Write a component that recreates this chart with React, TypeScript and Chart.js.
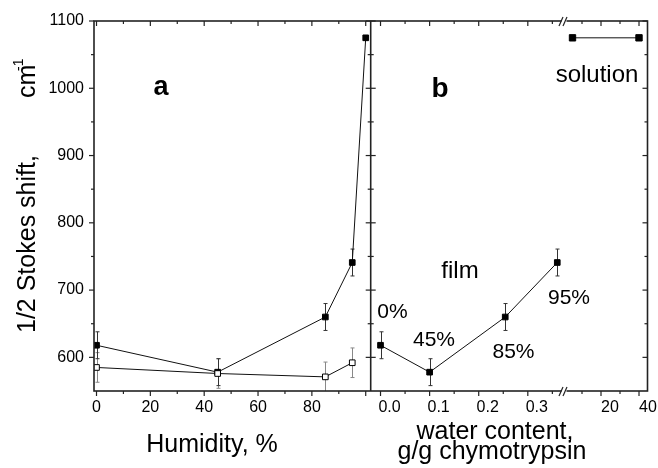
import React, { useEffect, useRef } from 'react';
import { Chart, registerables } from 'chart.js';

Chart.register(...registerables);

// ---- data ----
const humidityFilled = [0, 45, 85, 95, 100];
const shiftFilled = [618, 578, 660, 741, 1075];
const errFilled = [20, 20, 20, 20, 0];

const humidityOpen = [0, 45, 85, 95];
const shiftOpen = [585, 576, 571, 592];
const errOpen = [22, 22, 22, 22];

const waterFilm = [0, 0.1, 0.254, 0.36];
const shiftFilm = [618, 578, 660, 741];
const errFilm = [20, 20, 20, 20];

const waterSolution = [5, 40];
const shiftSolution = [1075, 1075];

const yTicks = [600, 700, 800, 900, 1000, 1100];
const humidityTicks = [0, 20, 40, 60, 80];
const waterTicks = [0, 0.1, 0.2, 0.3];
const solutionTicks = [20, 40];

const FONT = '"Liberation Sans", Arial, Helvetica, sans-serif';

const pts = (xs: number[], ys: number[]) => xs.map((x, i) => ({ x, y: ys[i] }));

const decorPlugin = {
  id: 'decor',
  beforeDatasetsDraw(chart: any) {
    const ctx = chart.ctx;
    const y = chart.scales.y;
    const { left, right, top, bottom } = chart.chartArea;
    ctx.save();
    ctx.beginPath();
    ctx.rect(left, top, right - left, bottom - top);
    ctx.clip();
    chart.data.datasets.forEach((ds: any) => {
      if (!ds.errors) return;
      const xs = chart.scales[ds.xAxisID];
      ctx.strokeStyle = ds.errColor;
      ctx.lineWidth = 1;
      ds.data.forEach((p: any, i: number) => {
        const e = ds.errors[i];
        if (!e) return;
        const px = Math.round(xs.getPixelForValue(p.x)) + 0.5;
        const t = y.getPixelForValue(p.y + e);
        const b = y.getPixelForValue(p.y - e);
        ctx.beginPath();
        ctx.moveTo(px, t);
        ctx.lineTo(px, b);
        ctx.moveTo(px - 2, t);
        ctx.lineTo(px + 2, t);
        ctx.moveTo(px - 2, b);
        ctx.lineTo(px + 2, b);
        ctx.stroke();
      });
    });
    ctx.restore();
  },
  afterDatasetsDraw(chart: any) {
    const ctx = chart.ctx;
    const { left, right, top, bottom } = chart.chartArea;
    const { xa, xb, xc, y } = chart.scales;
    ctx.save();
    ctx.strokeStyle = '#222';
    ctx.lineWidth = 1.6;
    ctx.strokeRect(left, top, right - left, bottom - top);
    const div = xa.right;
    ctx.beginPath();
    ctx.moveTo(div, top);
    ctx.lineTo(div, bottom);
    ctx.stroke();

    ctx.lineWidth = 1.2;
    const seg = (x1: number, y1: number, x2: number, y2: number) => {
      ctx.beginPath();
      ctx.moveTo(x1, y1);
      ctx.lineTo(x2, y2);
      ctx.stroke();
    };
    // y ticks
    for (let v = 600; v <= 1100; v += 50) {
      const py = y.getPixelForValue(v);
      const L = v % 100 === 0 ? 5 : 3;
      seg(left - L, py, left, py);
      seg(right - L, py, right, py);
      seg(div - L, py, div + L, py);
    }
    // x ticks
    const xTick = (scale: any, v: number, major: boolean) => {
      const px = scale.getPixelForValue(v);
      const L = major ? 5 : 3;
      seg(px, bottom, px, bottom + L);
      seg(px, top, px, top + L);
    };
    for (let i = 0; i <= 10; i++) xTick(xa, i * 10, i % 2 === 0);
    for (let i = 0; i <= 7; i++) xTick(xb, i * 0.05, i % 2 === 0);
    for (let i = 1; i <= 4; i++) xTick(xc, i * 10, i % 2 === 0);

    // axis breaks
    const bx = xb.right;
    [top, bottom].forEach((yy: number) => {
      ctx.fillStyle = '#fff';
      ctx.fillRect(bx - 2.5, yy - 2, 5, 4);
      ctx.strokeStyle = '#222';
      ctx.lineWidth = 1.2;
      seg(bx - 5, yy + 5, bx - 1, yy - 4);
      seg(bx - 1, yy + 5, bx + 3, yy - 4);
    });
    ctx.restore();
  },
  afterDraw(chart: any) {
    const ctx = chart.ctx;
    ctx.save();
    ctx.fillStyle = '#000';
    ctx.textBaseline = 'alphabetic';
    ctx.textAlign = 'center';
    const txt = (s: string, x: number, yy: number, font: string) => {
      ctx.font = font;
      ctx.fillText(s, x, yy);
    };
    txt('a', 161, 95, `bold 27px ${FONT}`);
    txt('b', 440, 97, `bold 28px ${FONT}`);
    txt('solution', 597, 82, `24px ${FONT}`);
    txt('film', 460, 278, `24px ${FONT}`);
    txt('0%', 392.5, 317.5, `21px ${FONT}`);
    txt('45%', 434, 345.5, `21px ${FONT}`);
    txt('85%', 513.5, 357.5, `21px ${FONT}`);
    txt('95%', 569, 304, `21px ${FONT}`);
    txt('Humidity, %', 212, 451.5, `25px ${FONT}`);
    txt('water content,', 495, 439, `25px ${FONT}`);
    txt('g/g chymotrypsin', 492, 458.5, `25px ${FONT}`);

    // y title (rotated)
    ctx.translate(35, 333);
    ctx.rotate(-Math.PI / 2);
    ctx.textAlign = 'left';
    ctx.font = `25px ${FONT}`;
    ctx.fillText('1/2 Stokes shift,', 0, 0);
    ctx.fillText('cm', 235, 0);
    ctx.font = `14px ${FONT}`;
    ctx.fillText('-1', 262, -12);
    ctx.restore();
  },
};

const xAxisBase = (min: number, max: number, weight: number, tickVals: number[], extra: any = {}) => ({
  type: 'linear',
  position: 'bottom',
  stack: 'x',
  stackWeight: weight,
  min,
  max,
  grid: { display: false, drawTicks: false },
  border: { display: false },
  ticks: {
    autoSkip: false,
    maxRotation: 0,
    minRotation: 0,
    padding: 7,
    color: '#000',
    font: { size: 16, family: FONT },
    ...extra,
  },
  afterBuildTicks: (s: any) => {
    s.ticks = tickVals.map((v) => ({ value: v }));
  },
  afterFit: (s: any) => {
    s.height = 77;
    s.paddingLeft = 0;
    s.paddingRight = 0;
  },
});

export default function App() {
  const ref = useRef<HTMLCanvasElement>(null);
  useEffect(() => {
    const canvas = ref.current;
    if (!canvas) return;
    const lineDs = (label: string, data: any[], xAxisID: string, fill: string, errors: number[] | null, errColor: string, r = 4) => ({
      label,
      data,
      xAxisID,
      yAxisID: 'y',
      borderColor: '#111',
      borderWidth: 1,
      pointStyle: 'rect',
      pointRadius: r,
      pointHoverRadius: r,
      pointBackgroundColor: fill,
      pointBorderColor: '#000',
      pointBorderWidth: 1,
      tension: 0,
      fill: false,
      showLine: true,
      errors,
      errColor,
    });
    const chart = new Chart(canvas, {
      type: 'line',
      data: {
        datasets: [
          lineDs('open', pts(humidityOpen, shiftOpen), 'xa', '#fff', errOpen, '#888'),
          lineDs('filled', pts(humidityFilled, shiftFilled), 'xa', '#000', errFilled, '#333'),
          lineDs('film', pts(waterFilm, shiftFilm), 'xb', '#000', errFilm, '#333'),
          lineDs('solution', pts(waterSolution, shiftSolution), 'xc', '#000', null, '#333', 4.5),
        ] as any,
      },
      options: {
        responsive: false,
        animation: false,
        layout: { padding: { left: 0, right: 10.5, top: 21, bottom: 0 } },
        plugins: { legend: { display: false }, tooltip: { enabled: false } },
        scales: {
          xa: xAxisBase(-0.93, 101.85, 276.7, humidityTicks, { callback: (v: any) => String(v) }),
          xb: xAxisBase(-0.02, 0.3737, 193.3, waterTicks, { labelOffset: 9, callback: (v: any) => Number(v).toFixed(1) }),
          xc: xAxisBase(0.526, 44.47, 83.5, solutionTicks, { labelOffset: 9, callback: (v: any) => String(v) }),
          y: {
            type: 'linear',
            position: 'left',
            min: 550,
            max: 1100,
            grid: { display: false, drawTicks: false },
            border: { display: false },
            ticks: { padding: 10, color: '#000', font: { size: 16, family: FONT }, callback: (v: any) => String(v) },
            afterBuildTicks: (s: any) => {
              s.ticks = yTicks.map((v) => ({ value: v }));
            },
            afterFit: (s: any) => {
              s.width = 94;
              s.paddingTop = 0;
              s.paddingBottom = 0;
            },
          },
        } as any,
      },
      plugins: [decorPlugin],
    } as any);
    return () => chart.destroy();
  }, []);
  return (
    <div style={{ position: 'absolute', left: 0, top: 0, width: 658, height: 468, background: '#fff' }}>
      <canvas ref={ref} width={658} height={468} style={{ width: 658, height: 468, display: 'block' }} />
    </div>
  );
}
